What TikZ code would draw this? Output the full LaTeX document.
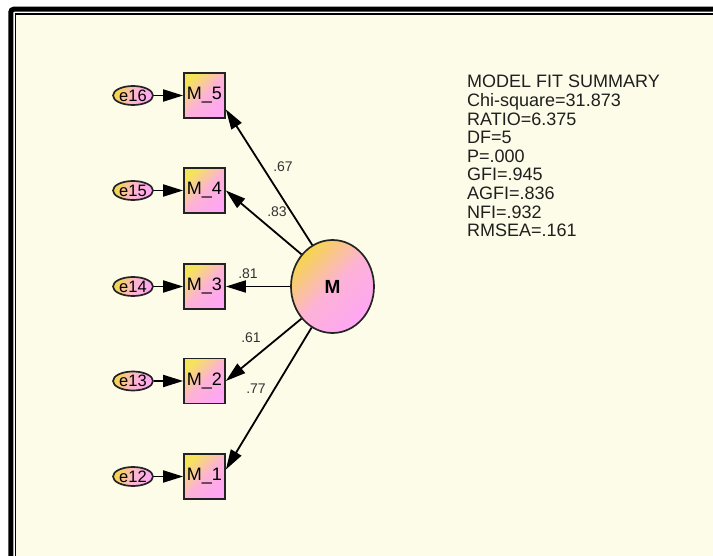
\documentclass[tikz,border=0pt]{standalone}
\usepackage{fontspec}
\setmainfont{Liberation Sans}
\usetikzlibrary{arrows.meta,shapes.geometric}

\definecolor{canvas}{RGB}{253,252,232}
\definecolor{warm}{RGB}{244,228,90}
\definecolor{rose}{RGB}{255,166,244}
\definecolor{edgegray}{RGB}{35,35,35}
\definecolor{labelgray}{RGB}{50,50,50}

\tikzset{
  obs/.style={draw=edgegray, line width=1.7pt, rectangle, minimum width=41pt,
    minimum height=45pt, inner sep=0pt,
    top color=warm, bottom color=rose, middle color=rose!80!warm, shading angle=45,
    font=\fontsize{18}{18}\selectfont},
  err/.style={draw=edgegray, line width=1.7pt, ellipse, minimum width=40pt,
    minimum height=19pt, inner sep=0pt,
    top color=warm!85!orange, bottom color=rose, middle color=rose!75!warm, shading angle=70,
    font=\fontsize{16.5}{16.5}\selectfont},
  latent/.style={draw=edgegray, line width=1.7pt, ellipse, minimum width=83pt,
    minimum height=93pt, inner sep=0pt,
    top color=warm!85!orange, bottom color=rose, middle color=rose!80!warm, shading angle=45,
    font=\fontsize{19}{19}\selectfont\bfseries},
  arr/.style={line width=1.8pt, draw=black, -{Triangle[length=20pt,width=12pt]}},
  coef/.style={font=\fontsize{14}{14}\selectfont, text=labelgray, inner sep=0pt},
  fitline/.style={font=\fontsize{18}{18}\selectfont, text=black!88, anchor=base west, inner sep=0pt}
}

\begin{document}
\begin{tikzpicture}[x=1pt, y=-1pt]
  % page and double frame; only its left and top sides fall inside the page
  \begin{scope}
    \clip (0,0) rectangle (713,556);
    \fill[white] (0,0) rectangle (713,556);
    \fill[canvas] (15.2,14) rectangle (760,600);
    \draw[line width=1.2pt] (15.2,600) -- (15.2,14) -- (760,14);
    \draw[line width=5pt, rounded corners=3pt] (10.8,610) -- (10.8,9.2) -- (770,9.2);
  \end{scope}

  % observed indicators and their error terms
  \foreach \i/\y in {5/95.5, 4/190.5, 3/286.5, 2/381, 1/476.5} {
    \node[obs] (M\i) at (204.5,\y) {M\_\i};
  }
  \node[err] (e16) at (133,95.5)  {e16};
  \node[err] (e15) at (133,190.5) {e15};
  \node[err] (e14) at (133,286.5) {e14};
  \node[err] (e13) at (133,381)   {e13};
  \node[err] (e12) at (133,476.5) {e12};

  % latent factor
  \node[latent] (M) at (332.5,286.5) {M};

  % error paths
  \draw[arr] (e16) -- (M5);
  \draw[arr] (e15) -- (M4);
  \draw[arr] (e14) -- (M3);
  \draw[arr] (e13) -- (M2);
  \draw[arr] (e12) -- (M1);

  % loadings
  \draw[arr] (M.116) -- (M5.-33);
  \draw[arr] (M.134) -- (M4.east);
  \draw[arr] (M.west) -- (M3.east);
  \draw[arr] (M.226) -- (M2.east);
  \draw[arr] (M.243.5) -- (M1.18);

  \node[coef] (l5) at (283,167) {.67};
  \node[coef] (l4) at (277,212) {.83};
  \node[coef] (l3) at (248,274) {.81};
  \node[coef] (l2) at (251,338) {.61};
  \node[coef] (l1) at (256,389) {.77};

  % fit summary
  \foreach \t [count=\k from 0] in {MODEL FIT SUMMARY, Chi-square=31.873, RATIO=6.375,
      DF=5, P=.000, GFI=.945, AGFI=.836, NFI=.932, RMSEA=.161} {
    \node[fitline] (fit\k) at (467,88+18.6*\k) {\t};
  }

  \pgfresetboundingbox
  \useasboundingbox (0,0) rectangle (713,556);
\end{tikzpicture}
\end{document}
